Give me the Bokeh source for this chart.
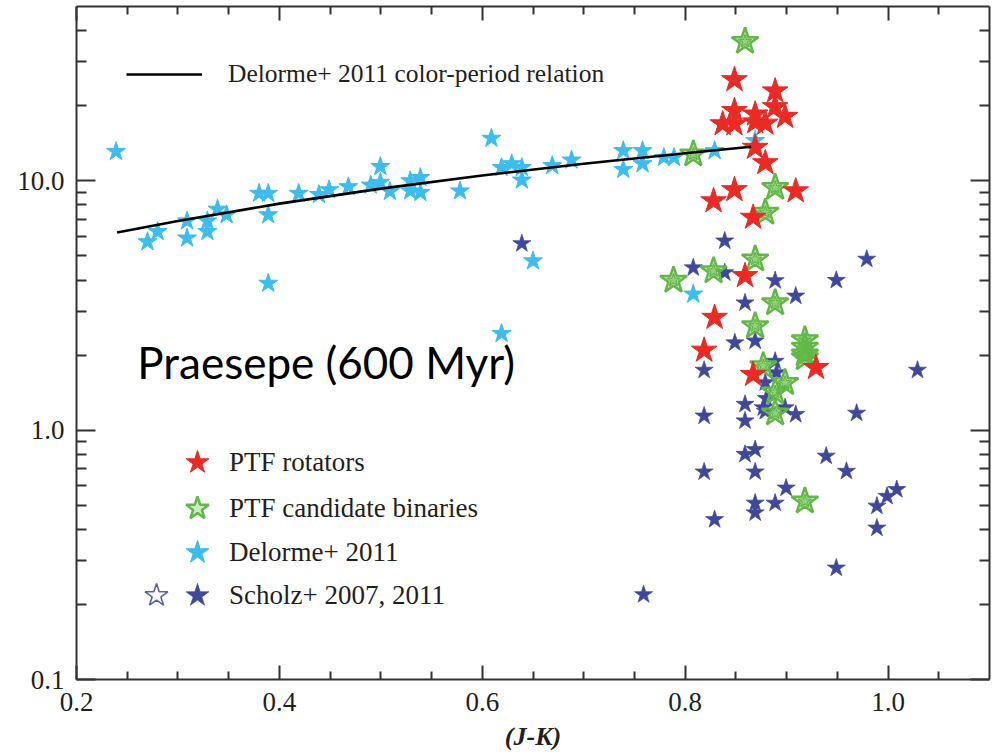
from bokeh.plotting import figure
from bokeh.models import (LinearAxis, LogAxis, FixedTicker, PrintfTickFormatter, Range1d,
                          Legend, LegendItem, Label)
from bokeh.embed import file_html
from bokeh.resources import INLINE

# ---------------- data ----------------
delorme_jk = [0.239, 0.270, 0.280, 0.309, 0.309, 0.329, 0.329, 0.339, 0.348, 0.380,
              0.389, 0.389, 0.389, 0.419, 0.439, 0.449, 0.468, 0.490, 0.4995, 0.4995,
              0.509, 0.529, 0.529, 0.539, 0.539, 0.578, 0.609, 0.619, 0.629, 0.639,
              0.639, 0.650, 0.619, 0.669, 0.688, 0.739, 0.739, 0.758, 0.758, 0.779,
              0.789, 0.808, 0.829, 0.869]
delorme_p = [13.1, 5.69, 6.25, 6.9, 5.89, 6.9, 6.25, 7.69, 7.3, 8.9,
             8.9, 7.3, 3.88, 8.9, 8.8, 9.2, 9.46, 9.6, 11.4, 9.85,
             9.06, 10.0, 9.1, 10.3, 8.97, 9.1, 14.8, 11.3, 11.7, 11.3,
             10.06, 4.77, 2.44, 11.5, 12.1, 13.2, 11.1, 13.2, 11.7, 12.4,
             12.4, 3.51, 13.2, 14.5]

ptf_rot_jk = [0.8486, 0.8887, 0.8887, 0.8486, 0.837, 0.8486, 0.869, 0.879, 0.8985, 0.869,
              0.869, 0.879, 0.909, 0.8486, 0.828, 0.867, 0.859, 0.829, 0.8187, 0.929,
              0.867]
ptf_rot_p = [25.4, 22.9, 19.8, 19.1, 16.9, 16.9, 18.5, 17.0, 18.1, 17.2,
             13.6, 11.8, 9.1, 9.2, 8.3, 7.13, 4.16, 2.83, 2.09, 1.78,
             1.67]

ptf_bin_jk = [0.859, 0.808, 0.8887, 0.879, 0.869, 0.828, 0.7885, 0.8887, 0.869, 0.918,
              0.918, 0.918, 0.918, 0.877, 0.8985, 0.8887, 0.8887, 0.918]
ptf_bin_p = [36.2, 12.8, 9.4, 7.47, 4.85, 4.35, 3.99, 3.24, 2.62, 2.3,
             2.15, 2.02, 1.95, 1.81, 1.55, 1.42, 1.17, 0.519]

scholz_jk = [0.639, 0.808, 0.839, 0.839, 0.979, 0.949, 0.8887, 0.859, 0.909, 0.849,
             0.869, 1.029, 0.8187, 0.8887, 0.89, 0.879, 0.880, 0.859, 0.879, 0.8985,
             0.909, 0.8187, 0.859, 0.969, 0.939, 0.859, 0.869, 0.959, 0.8187, 0.869,
             0.8995, 0.8887, 0.869, 0.869, 0.989, 0.999, 1.0086, 0.989, 0.829, 0.949,
             0.759, 0.877]
scholz_p = [5.6, 4.48, 5.74, 4.28, 4.85, 3.99, 3.98, 3.24, 3.45, 2.24,
            2.28, 1.74, 1.74, 1.89, 1.70, 1.55, 1.34, 1.27, 1.19, 1.23,
            1.156, 1.14, 1.09, 1.17, 0.787, 0.80, 0.836, 0.684, 0.68, 0.68,
            0.586, 0.51, 0.51, 0.466, 0.496, 0.543, 0.578, 0.405, 0.438, 0.28,
            0.219, 1.23]

relation_jk = [0.24, 0.30, 0.40, 0.50, 0.60, 0.70, 0.80, 0.865]
relation_p = [6.2, 6.9, 8.1, 9.3, 10.5, 11.7, 12.9, 13.7]

x_major = [0.2, 0.4, 0.6, 0.8, 1.0]
x_minor = [0.25, 0.3, 0.35, 0.45, 0.5, 0.55, 0.65, 0.7, 0.75, 0.85, 0.9, 0.95, 1.05]
y_major = [0.1, 1.0, 10.0]
y_minor = [0.2, 0.3, 0.4, 0.5, 0.6, 0.7, 0.8, 0.9, 2, 3, 4, 5, 6, 7, 8, 9, 20, 30, 40]

RED = "#ec2a25"
GREEN = "#62b846"
CYAN = "#3dbdee"
NAVY = "#40489c"
AX = "#333333"
TXT = "#231f20"
SERIF = "Liberation Serif"

p = figure(width=996, height=755, x_range=Range1d(0.2, 1.1), y_range=Range1d(0.1, 50),
           y_axis_type="log", output_backend="svg", toolbar_location=None,
           min_border_left=76, min_border_right=7, min_border_top=6, min_border_bottom=76)
p.outline_line_color = None
p.grid.visible = False
p.background_fill_color = "white"


def style(ax, tick_in, minor_in):
    ax.axis_line_width = 2
    ax.axis_line_color = AX
    ax.major_tick_in = tick_in
    ax.major_tick_out = 0
    ax.minor_tick_in = minor_in
    ax.minor_tick_out = 0
    ax.major_tick_line_width = 2
    ax.minor_tick_line_width = 2
    ax.major_tick_line_color = AX
    ax.minor_tick_line_color = AX
    ax.major_label_text_font = SERIF
    ax.major_label_text_color = TXT
    ax.major_label_text_font_size = "27px"


xb = p.xaxis[0]
xb.ticker = FixedTicker(ticks=x_major, minor_ticks=x_minor)
xb.formatter = PrintfTickFormatter(format="%.1f")
style(xb, 14, 8)
xb.major_label_standoff = 13
xb.axis_label = "(J-K)"
xb.axis_label_text_font = SERIF
xb.axis_label_text_font_style = "bold italic"
xb.axis_label_text_font_size = "26px"
xb.axis_label_text_color = TXT
xb.axis_label_standoff = 8

yl = p.yaxis[0]
yl.ticker = FixedTicker(ticks=y_major, minor_ticks=y_minor)
yl.formatter = PrintfTickFormatter(format="%.1f")
style(yl, 19, 10)
yl.major_label_standoff = 12

# mirrored frame axes (ticks only)
xt = LinearAxis(ticker=FixedTicker(ticks=x_major, minor_ticks=x_minor))
style(xt, 14, 8)
xt.major_label_text_color = None
xt.major_label_text_font_size = "2px"
xt.major_label_standoff = 0
p.add_layout(xt, "above")

yr = LogAxis(ticker=FixedTicker(ticks=y_major, minor_ticks=y_minor))
style(yr, 19, 10)
yr.major_label_text_color = None
yr.major_label_text_font_size = "2px"
yr.major_label_standoff = 0
p.add_layout(yr, "right")

# ---------------- glyphs ----------------
cyan_r = p.scatter(delorme_jk, delorme_p, marker="star", size=20, fill_color=CYAN,
                   line_color=CYAN, line_width=1)
navy_r = p.scatter(scholz_jk, scholz_p, marker="star", size=19, fill_color=NAVY,
                   line_color=NAVY, line_width=1, line_alpha=0.7)
green_r = p.scatter(ptf_bin_jk, ptf_bin_p, marker="star", size=28, fill_color=GREEN,
                    fill_alpha=0.3, line_color=GREEN, line_width=2.5)
p.scatter(ptf_bin_jk, ptf_bin_p, marker="star", size=14, fill_color=GREEN,
          fill_alpha=0.55, line_color=GREEN, line_width=1.2)
red_r = p.scatter(ptf_rot_jk, ptf_rot_p, marker="star", size=27, fill_color=RED,
                  line_color=RED, line_width=1)
line_r = p.line(relation_jk, relation_p, line_color="black", line_width=2.6)
open_r = p.scatter(x=[0.0], y=[0.01], marker="star", size=24, fill_color=None,
                   line_color="#5a62b0", line_width=1.6)

# ---------------- legends ----------------
common = dict(padding=0, margin=0, spacing=0, border_line_color=None,
              background_fill_alpha=0, label_text_font=SERIF, label_text_color=TXT)

p.add_layout(Legend(items=[LegendItem(label="Delorme+ 2011 color-period relation",
                                      renderers=[line_r])],
                    location=(50, 590), glyph_width=76, glyph_height=30, label_height=30,
                    label_standoff=26, label_text_font_size="25.5px", **common))

rows = [("PTF rotators", red_r, 187),
        ("PTF candidate binaries", green_r, 141),
        ("Delorme+ 2011", cyan_r, 97),
        ("Scholz+ 2007, 2011", navy_r, 54)]
for lab, rend, ypos in rows:
    p.add_layout(Legend(items=[LegendItem(label=lab, renderers=[rend])],
                        location=(91, ypos), glyph_width=60, glyph_height=60,
                        label_height=30, label_standoff=2,
                        label_text_font_size="27px", **common))

p.add_layout(Legend(items=[LegendItem(label=" ", renderers=[open_r])],
                    location=(50, 54), glyph_width=60, glyph_height=60, label_height=30,
                    label_standoff=0, label_text_font_size="10px", **common))

p.add_layout(Label(x=0.26, y=1.88, text="Praesepe (600 Myr)", text_font="Lato",
                   text_font_size="44px", text_color="black", text_baseline="alphabetic"))

open("out.html", "w").write(file_html(p, INLINE))
